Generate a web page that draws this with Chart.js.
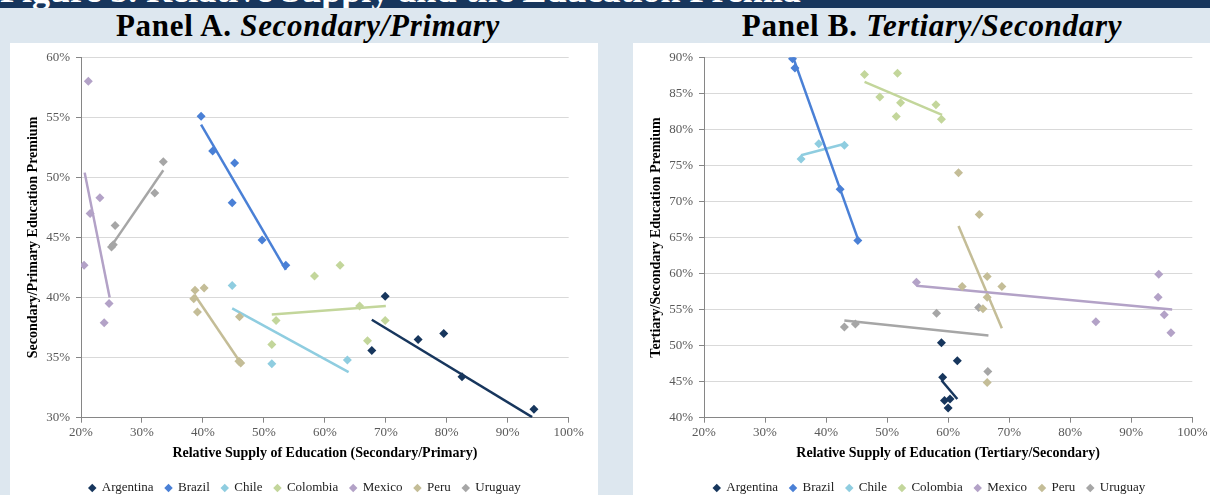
<!DOCTYPE html>
<html>
<head>
<meta charset="utf-8">
<script src="https://cdn.jsdelivr.net/npm/chart.js@4.4.1/dist/chart.umd.min.js"></script>
<style>
  body { margin: 0; width: 1210px; height: 495px; background: #dde7ef; position: relative; overflow: hidden; font-family: "Liberation Serif", "DejaVu Serif", serif; }
  .topbar { position: absolute; left: 0; top: 0; width: 1210px; height: 8px; background: #17365d; overflow: hidden; }
  .topbar span { position: absolute; left: 0; top: -28px; line-height: 36px; color: #fff; font-size: 36px; font-weight: bold; white-space: nowrap; }
  .ptitle { position: absolute; top: 10px; width: 600px; text-align: center; font-size: 31px; line-height: 31px; letter-spacing: 0.7px; font-weight: bold; color: #000; white-space: nowrap; }
  .ptitle i { font-style: italic; }
  .panel { position: absolute; top: 43px; height: 452px; background: #fff; }
</style>
</head>
<body>
<div class="topbar"><span>Figure 5. Relative Supply and the Education Premia</span></div>
<div class="ptitle" style="left:8px">Panel A. <i>Secondary/Primary</i></div>
<div class="ptitle" style="left:632px">Panel B. <i>Tertiary/Secondary</i></div>
<div class="panel" style="left:10px; width:588px"><canvas id="chartA"></canvas></div>
<div class="panel" style="left:633px; width:577px"><canvas id="chartB"></canvas></div>
<script>
// countries in legend order
const countries = ['Argentina', 'Brazil', 'Chile', 'Colombia', 'Mexico', 'Peru', 'Uruguay'];

// Panel A: secondary/primary (x = relative supply %, y = premium %)
const argentinaA = [[67.7, 35.6], [69.9, 40.1], [75.3, 36.5], [79.5, 37.0], [82.5, 33.4], [94.3, 30.7]];
const brazilA = [[39.7, 55.1], [41.6, 52.2], [45.2, 51.2], [44.8, 47.9], [49.7, 44.8], [53.6, 42.7]];
const chileA = [[44.8, 41.0], [51.3, 34.5], [63.7, 34.8]];
const colombiaA = [[52.0, 38.1], [51.3, 36.1], [58.3, 41.8], [62.5, 42.7], [65.7, 39.3], [67.0, 36.4], [69.9, 38.1]];
const mexicoA = [[21.2, 58.0], [20.5, 42.7], [21.5, 47.0], [23.1, 48.3], [24.6, 39.5], [23.8, 37.9]];
const peruA = [[38.7, 40.6], [40.2, 40.8], [38.5, 39.9], [39.1, 38.8], [46.0, 38.4], [45.9, 34.7], [46.2, 34.55]];
const uruguayA = [[25.6, 46.0], [25.0, 44.2], [25.3, 44.4], [32.1, 48.7], [33.5, 51.3]];

// Panel A trend line end points
const argentinaAFit = [[67.7, 38.15], [94.0, 30.05]];
const brazilAFit = [[39.7, 54.4], [53.6, 42.3]];
const chileAFit = [[44.8, 39.1], [63.9, 33.8]];
const colombiaAFit = [[51.3, 38.6], [70.0, 39.3]];
const mexicoAFit = [[20.6, 50.4], [24.7, 40.0]];
const peruAFit = [[38.6, 40.25], [46.2, 34.55]];
const uruguayAFit = [[25.0, 44.3], [33.5, 50.6]];

// Panel B: tertiary/secondary
const argentinaB = [[58.9, 50.4], [61.5, 47.9], [59.1, 45.6], [59.4, 42.4], [60.3, 42.6], [60.0, 41.35]];
const brazilB = [[34.5, 89.8], [34.9, 88.5], [42.3, 71.7], [45.2, 64.6]];
const chileB = [[35.9, 75.9], [38.8, 78.0], [43.0, 77.8]];
const colombiaB = [[46.3, 87.6], [51.7, 87.8], [48.8, 84.5], [52.2, 83.7], [51.5, 81.8], [58.0, 83.4], [58.9, 81.4]];
const mexicoB = [[54.8, 58.8], [94.5, 59.9], [94.4, 56.7], [95.4, 54.3], [96.5, 51.8], [84.2, 53.3]];
const peruB = [[61.7, 74.0], [65.1, 68.2], [66.4, 59.6], [62.3, 58.2], [68.8, 58.2], [66.4, 56.7], [65.7, 55.1], [66.4, 44.9]];
const uruguayB = [[43.0, 52.6], [44.8, 53.0], [58.1, 54.5], [65.0, 55.3], [66.5, 46.4]];

// Panel B trend line end points
const argentinaBFit = [[58.9, 45.2], [61.5, 42.6]];
const brazilBFit = [[34.6, 90.0], [45.3, 64.6]];
const chileBFit = [[35.9, 76.4], [43.1, 78.0]];
const colombiaBFit = [[46.3, 86.6], [59.0, 82.0]];
const mexicoBFit = [[54.8, 58.3], [96.7, 55.0]];
const peruBFit = [[61.7, 66.6], [68.8, 52.4]];
const uruguayBFit = [[43.0, 53.5], [66.6, 51.4]];

const colors = ['#17365d', '#4a80d6', '#8fcde0', '#c3d69b', '#b3a2c7', '#c4bd97', '#a6a6a6'];

const toXY = arr => arr.map(p => ({ x: p[0], y: p[1] }));

function buildDatasets(points, fits) {
    const sets = [];
    countries.forEach((name, i) => {
        sets.push({
            label: name,
            data: toXY(points[i]),
            backgroundColor: colors[i],
            borderColor: colors[i],
            pointStyle: 'rectRot',
            pointRadius: 4.5,
            pointBorderWidth: 0
        });
    });
    // trend lines go after the markers so they are drawn underneath
    countries.forEach((name, i) => {
        sets.push({
            label: name + ' fit',
            data: toXY(fits[i]),
            borderColor: colors[i],
            backgroundColor: colors[i],
            showLine: true,
            borderWidth: 2.5,
            pointRadius: 0
        });
    });
    return sets;
}

// move the legend row to where the reference has it
const legendPlacer = {
    id: 'legendPlacer',
    afterLayout(chart, args, opts) {
        const lg = chart.legend;
        if (!lg) return;
        lg.left = opts.shift || 0;
        lg.right = chart.width + (opts.shift || 0);
        lg.top = opts.centerY - lg.options.labels.padding - 6.5;
    }
};

const tickFont = { family: "'Liberation Serif', serif", size: 13 };
const titleFont = { family: "'Liberation Serif', serif", size: 14, weight: 'bold' };
const AREA_BOTTOM = 374.7;

function makeChart(id, points, fits, yMin, yMax, xTitle, yTitle, rightPad, legendShift) {
    new Chart(document.getElementById(id), {
        type: 'scatter',
        data: { datasets: buildDatasets(points, fits) },
        plugins: [legendPlacer],
        options: {
            responsive: true,
            maintainAspectRatio: false,
            animation: false,
            layout: { padding: { left: 0, right: rightPad, top: 14.3, bottom: 0 } },
            plugins: {
                tooltip: { enabled: false },
                legendPlacer: { centerY: 445, shift: legendShift },
                legend: {
                    position: 'bottom',
                    labels: {
                        usePointStyle: true,
                        boxWidth: 6,
                        boxHeight: 6,
                        padding: 12,
                        color: '#222',
                        font: { family: "'Liberation Serif', serif", size: 13 },
                        filter: item => !item.text.endsWith(' fit')
                    }
                }
            },
            scales: {
                x: {
                    type: 'linear',
                    min: 20,
                    max: 100,
                    ticks: { stepSize: 10, color: '#595959', font: tickFont, padding: 2, callback: v => v + '%' },
                    grid: { drawOnChartArea: false, tickLength: 5, tickColor: '#868686' },
                    border: { color: '#868686' },
                    title: { display: true, text: xTitle, color: '#000', font: titleFont, padding: { top: 0, bottom: -2 } },
                    afterFit: s => { s.height = s.chart.height - AREA_BOTTOM - s.chart.legend.height; }
                },
                y: {
                    min: yMin,
                    max: yMax,
                    ticks: { stepSize: 5, color: '#595959', font: tickFont, padding: 6, callback: v => v + '%' },
                    grid: { color: '#d9d9d9', tickLength: 5, tickColor: '#868686' },
                    border: { color: '#868686' },
                    title: { display: true, text: yTitle, color: '#000', font: titleFont, padding: { top: 15, bottom: 0 } },
                    afterFit: s => { s.width = 71; }
                }
            }
        }
    });
}

makeChart('chartA',
    [argentinaA, brazilA, chileA, colombiaA, mexicoA, peruA, uruguayA],
    [argentinaAFit, brazilAFit, chileAFit, colombiaAFit, mexicoAFit, peruAFit, uruguayAFit],
    30, 60,
    'Relative Supply of Education (Secondary/Primary)',
    'Secondary/Primary Education Premium', 29.3, 1);

makeChart('chartB',
    [argentinaB, brazilB, chileB, colombiaB, mexicoB, peruB, uruguayB],
    [argentinaBFit, brazilBFit, chileBFit, colombiaBFit, mexicoBFit, peruBFit, uruguayBFit],
    40, 90,
    'Relative Supply of Education (Tertiary/Secondary)',
    'Tertiary/Secondary Education Premium', 17.7, 8);
</script>
</body>
</html>
